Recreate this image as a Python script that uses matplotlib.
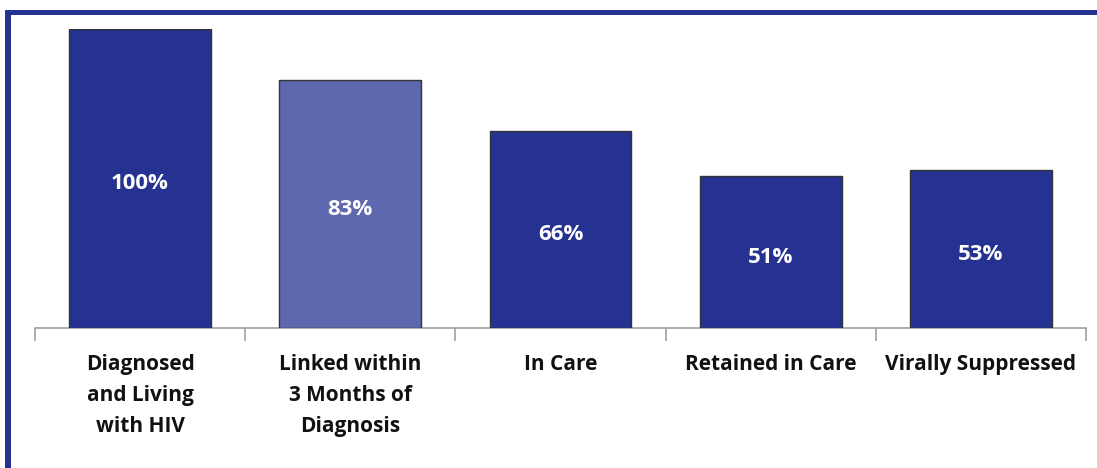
import matplotlib.pyplot as plt
import matplotlib
from matplotlib.patches import Rectangle
import numpy as np

matplotlib.rcParams['font.family'] = ['Open Sans', 'DejaVu Sans']

categories = ["Diagnosed\nand Living\nwith HIV", "Linked within\n3 Months of\nDiagnosis",
              "In Care", "Retained in Care", "Virally Suppressed"]
values = [100, 83, 66, 51, 53]

DARK = "#253291"
LIGHT = "#5E68AE"
colors = [DARK, LIGHT, DARK, DARK, DARK]

fig = plt.figure(figsize=(10.97, 4.68), dpi=100)
ax = fig.add_axes([35/1097, 140/468, (1086-35)/1097, (328-29)/468])

x = np.arange(len(categories))
bars = ax.bar(x, values, width=0.675, color=colors, edgecolor="#333333", linewidth=1.0, zorder=3)

for bar, v in zip(bars, values):
    ax.annotate(f"{v}%", (bar.get_x() + bar.get_width()/2, v/2), xytext=(0, -2),
                textcoords="offset points", ha="center", va="center_baseline",
                color="white", fontsize=16, fontweight="bold")

ax.set_xlim(-0.5, len(categories) - 0.5)
ax.set_ylim(0, 100)
ax.set_yticks([])
for s in ["top", "right", "left"]:
    ax.spines[s].set_visible(False)
ax.spines["bottom"].set_color("#A0A0A0")
ax.spines["bottom"].set_linewidth(1.2)

ax.set_xticks(x)
ax.set_xticklabels(categories, fontsize=15, fontweight="bold", color="#111111", linespacing=1.6)
ax.tick_params(axis="x", which="major", length=0, pad=19)
ax.set_xticks(np.arange(-0.5, len(categories)), minor=True)
ax.tick_params(axis="x", which="minor", length=9, color="#A0A0A0", width=1.2)

# frame lines at top and left
fig.add_artist(Rectangle((5/1097, 1 - 15/468), 1, 5/468, transform=fig.transFigure,
                         color=DARK, lw=0))
fig.add_artist(Rectangle((5/1097, 0), 6/1097, 1 - 10/468, transform=fig.transFigure,
                         color=DARK, lw=0))

plt.savefig("out.png", dpi=100)
